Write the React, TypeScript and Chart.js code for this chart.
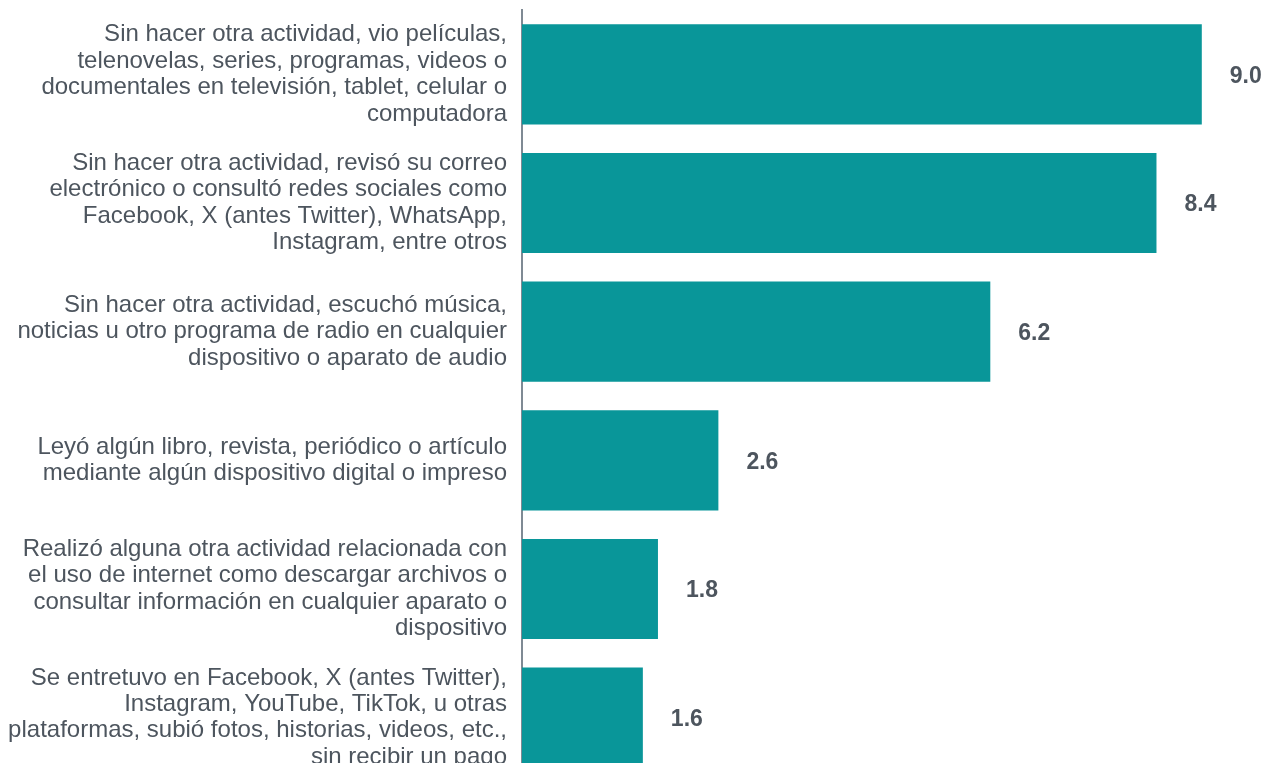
import React, { useEffect, useRef } from "react";
import { Chart, registerables } from "chart.js";

Chart.register(...registerables);

const categories: string[][] = [
  ["Sin hacer otra actividad, vio películas,", "telenovelas, series, programas, videos o", "documentales en televisión, tablet, celular o", "computadora"],
  ["Sin hacer otra actividad, revisó su correo", "electrónico o consultó redes sociales como", "Facebook, X (antes Twitter), WhatsApp,", "Instagram, entre otros"],
  ["Sin hacer otra actividad, escuchó música,", "noticias u otro programa de radio en cualquier", "dispositivo o aparato de audio"],
  ["Leyó algún libro, revista, periódico o artículo", "mediante algún dispositivo digital o impreso"],
  ["Realizó alguna otra actividad relacionada con", "el uso de internet como descargar archivos o", "consultar información en cualquier aparato o", "dispositivo"],
  ["Se entretuvo en Facebook, X (antes Twitter),", "Instagram, YouTube, TikTok, u otras", "plataformas, subió fotos, historias, videos, etc.,", "sin recibir un pago"],
];

const values: number[] = [9.0, 8.4, 6.2, 2.6, 1.8, 1.6];

const FONT = "'Liberation Sans', Arial, sans-serif";
const TEXT = "#4D555E";
const BAR = "#099699";

const valueLabels = {
  id: "valueLabels",
  afterDatasetsDraw(chart: any) {
    const ctx = chart.ctx;
    const meta = chart.getDatasetMeta(0);
    ctx.save();
    ctx.font = `bold 23px ${FONT}`;
    ctx.fillStyle = TEXT;
    ctx.textAlign = "left";
    ctx.textBaseline = "middle";
    meta.data.forEach((bar: any, i: number) => {
      ctx.fillText(values[i].toFixed(1), bar.x + 28, bar.y + 2);
    });
    ctx.restore();
  },
};

export default function App() {
  const ref = useRef<HTMLCanvasElement>(null);
  useEffect(() => {
    if (!ref.current) return;
    const chart = new Chart(ref.current, {
      type: "bar",
      data: {
        labels: categories,
        datasets: [
          {
            data: values,
            backgroundColor: BAR,
            borderWidth: 0,
            barPercentage: 0.778,
            categoryPercentage: 1,
          },
        ],
      },
      options: {
        indexAxis: "y",
        animation: false,
        responsive: false,
        maintainAspectRatio: false,
        layout: { padding: { top: 10, right: 0, bottom: 0, left: 0 } },
        plugins: { legend: { display: false }, tooltip: { enabled: false } },
        scales: {
          x: { display: false, min: 0, max: 9.85 },
          y: {
            afterFit: (scale: any) => {
              scale.width = 522;
              scale.paddingTop = 0;
              scale.paddingBottom = 0;
            },
            grid: { display: false, drawTicks: false },
            border: { display: true, color: "#7F8A94", width: 2 },
            ticks: {
              color: TEXT,
              padding: 15,
              font: { family: FONT, size: 24, lineHeight: 1.1 },
            },
          },
        },
      },
      plugins: [valueLabels],
    });
    return () => chart.destroy();
  }, []);
  return (
    <div style={{ position: "absolute", left: 0, top: 0, width: 1266, height: 782, background: "#fff" }}>
      <canvas ref={ref} width={1266} height={782} />
    </div>
  );
}
